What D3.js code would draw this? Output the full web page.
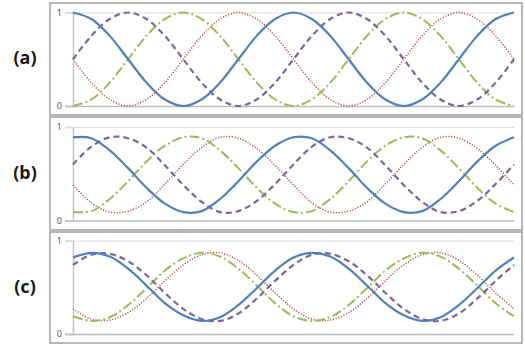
<!DOCTYPE html>
<html>
<head>
<meta charset="utf-8">
<script src="https://cdn.jsdelivr.net/npm/d3@7"></script>
<style>
  html, body { margin: 0; padding: 0; background: #fff; }
  svg { display: block; }
</style>
</head>
<body>
<svg id="chart" width="525" height="345"></svg>
<script>
// x positions: phase angle in degrees, 0..720 in 30 degree steps
const angles = [0,30,60,90,120,150,180,210,240,270,300,330,360,390,420,450,480,510,540,570,600,630,660,690,720];
const panelLabels = ["(a)", "(b)", "(c)"];
const tickValues = [0, 1];
const tickLabels = ["0", "1"];
const seriesNames = ["blue", "purple", "green", "red"];

// Panel (a)
const aBlue   = [1,0.93,0.75,0.5,0.25,0.07,0,0.07,0.25,0.5,0.75,0.93,1,0.93,0.75,0.5,0.25,0.07,0,0.07,0.25,0.5,0.75,0.93,1];
const aPurple = [0.5,0.75,0.93,1,0.93,0.75,0.5,0.25,0.07,0,0.07,0.25,0.5,0.75,0.93,1,0.93,0.75,0.5,0.25,0.07,0,0.07,0.25,0.5];
const aGreen  = [0,0.07,0.25,0.5,0.75,0.93,1,0.93,0.75,0.5,0.25,0.07,0,0.07,0.25,0.5,0.75,0.93,1,0.93,0.75,0.5,0.25,0.07,0];
const aRed    = [0.5,0.25,0.07,0,0.07,0.25,0.5,0.75,0.93,1,0.93,0.75,0.5,0.25,0.07,0,0.07,0.25,0.5,0.75,0.93,1,0.93,0.75,0.5];

// Panel (b)
const bBlue   = [0.89,0.88,0.75,0.56,0.35,0.18,0.09,0.10,0.23,0.42,0.63,0.80,0.89,0.88,0.75,0.56,0.35,0.18,0.09,0.10,0.23,0.42,0.63,0.80,0.89];
const bPurple = [0.60,0.79,0.89,0.88,0.78,0.59,0.38,0.20,0.09,0.10,0.21,0.39,0.60,0.79,0.89,0.88,0.78,0.59,0.38,0.20,0.09,0.10,0.21,0.39,0.60];
const bGreen  = [0.09,0.10,0.23,0.42,0.63,0.80,0.89,0.88,0.75,0.56,0.35,0.18,0.09,0.10,0.23,0.42,0.63,0.80,0.89,0.88,0.75,0.56,0.35,0.18,0.09];
const bRed    = [0.38,0.19,0.09,0.10,0.20,0.39,0.60,0.78,0.89,0.88,0.77,0.59,0.38,0.19,0.09,0.10,0.20,0.39,0.60,0.78,0.89,0.88,0.77,0.59,0.38];

// Panel (c)
const cBlue   = [0.82,0.87,0.83,0.70,0.52,0.33,0.20,0.14,0.18,0.31,0.49,0.68,0.82,0.87,0.83,0.70,0.52,0.33,0.20,0.14,0.18,0.31,0.49,0.68,0.82];
const cPurple = [0.74,0.85,0.86,0.78,0.63,0.44,0.27,0.16,0.14,0.22,0.38,0.57,0.74,0.85,0.86,0.78,0.63,0.44,0.27,0.16,0.14,0.22,0.38,0.57,0.74];
const cGreen  = [0.19,0.14,0.18,0.31,0.49,0.68,0.81,0.87,0.83,0.70,0.52,0.33,0.19,0.14,0.18,0.31,0.49,0.68,0.81,0.87,0.83,0.70,0.52,0.33,0.19];
const cRed    = [0.27,0.16,0.15,0.23,0.38,0.57,0.74,0.85,0.87,0.79,0.63,0.44,0.27,0.16,0.15,0.23,0.38,0.57,0.74,0.85,0.87,0.79,0.63,0.44,0.27];

const panelsData = [
  [aBlue, aPurple, aGreen, aRed],
  [bBlue, bPurple, bGreen, bRed],
  [cBlue, cPurple, cGreen, cRed]
];

// styles
const styles = {
  blue:   { color: "#4F81BD", width: 2.2, dash: null },
  purple: { color: "#8064A2", width: 2.2, dash: "6,4" },
  green:  { color: "#9BBB59", width: 2.0, dash: "10,3,2,3" },
  red:    { color: "#C0504D", width: 1.5, dash: "1.2,1.6" }
};

// layout
const frames = [
  { top: 3,   bottom: 115, plotTop: 12.5,  plotBottom: 106 },
  { top: 117, bottom: 230, plotTop: 127,   plotBottom: 220.5 },
  { top: 232, bottom: 343, plotTop: 240.7, plotBottom: 334 }
];
const frameLeft = 50, frameRight = 522;
const plotLeft = 73, plotRight = 514;

const svg = d3.select("#chart");
const x = d3.scaleLinear().domain([0, 720]).range([plotLeft, plotRight]);

frames.forEach((f, i) => {
  const g = svg.append("g");
  // frame
  g.append("rect")
    .attr("x", frameLeft).attr("y", f.top)
    .attr("width", frameRight - frameLeft).attr("height", f.bottom - f.top)
    .attr("fill", "#fff").attr("stroke", "#a6a6a6").attr("stroke-width", 1.6);

  const y = d3.scaleLinear().domain([0, 1]).range([f.plotBottom, f.plotTop]);

  // axis with gridlines
  const axis = d3.axisLeft(y).tickValues(tickValues)
    .tickFormat((d, k) => tickLabels[tickValues.indexOf(d)])
    .tickSizeOuter(0).tickSize(8).tickPadding(3);
  const ag = g.append("g").attr("transform", `translate(${plotLeft},0)`).call(axis);
  ag.select(".domain").attr("stroke", "#c8c8c8").attr("stroke-width", 1.6);
  ag.selectAll(".tick line")
    .attr("x1", -8).attr("x2", plotRight - plotLeft)
    .attr("stroke", d => d === 0 ? "#bdbdbd" : "#dedede")
    .attr("stroke-width", d => d === 0 ? 1.4 : 1.2);
  ag.selectAll(".tick text")
    .attr("fill", "#595959")
    .style("font-family", "'Noto Sans', sans-serif")
    .style("font-size", "9px");

  // series
  const line = d3.line()
    .x((d, k) => x(angles[k]))
    .y(d => y(d))
    .curve(d3.curveCatmullRom.alpha(0.5));

  const order = [3, 2, 1, 0]; // draw blue on top
  order.forEach(si => {
    const st = styles[seriesNames[si]];
    g.append("path")
      .datum(panelsData[i][si])
      .attr("d", line)
      .attr("fill", "none")
      .attr("stroke", st.color)
      .attr("stroke-width", st.width)
      .attr("stroke-dasharray", st.dash)
      .attr("stroke-linecap", "butt");
  });

  // panel label
  svg.append("text")
    .attr("x", 25).attr("y", (f.top + f.bottom) / 2 + 5)
    .attr("text-anchor", "middle")
    .attr("fill", "#1a1a1a")
    .style("font-family", "'Noto Sans', 'Open Sans', sans-serif")
    .style("font-weight", "bold")
    .style("font-size", "18px")
    .text(panelLabels[i]);
});
</script>
</body>
</html>
